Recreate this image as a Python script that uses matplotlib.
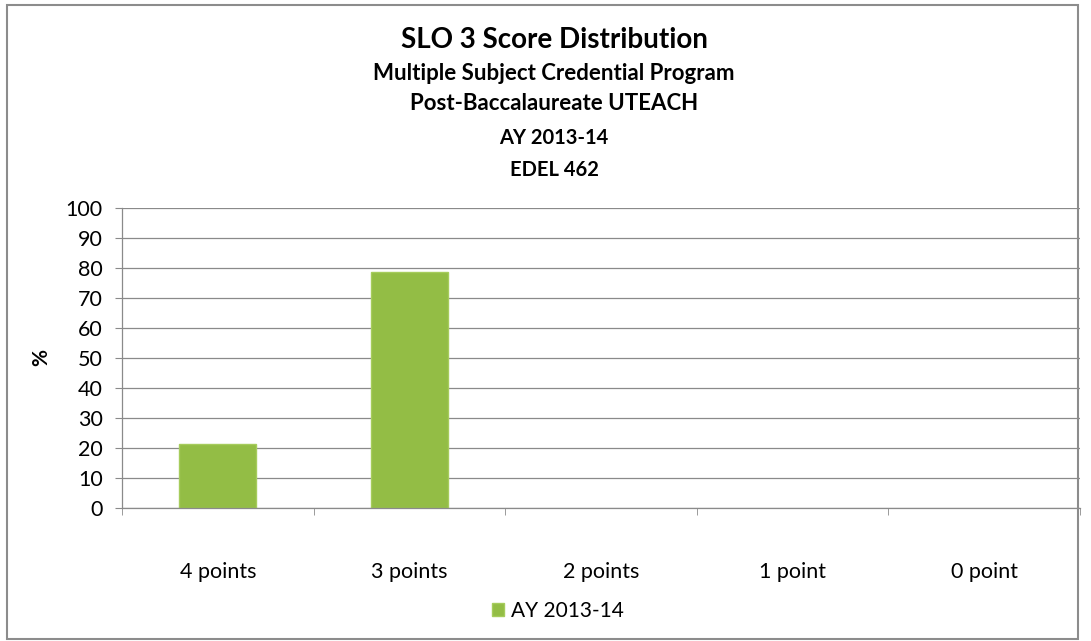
import matplotlib
matplotlib.use("Agg")
import matplotlib.pyplot as plt
from matplotlib.patches import Rectangle, Patch
import numpy as np

plt.rcParams['font.family'] = ['Lato', 'DejaVu Sans']

categories = ['4 points', '3 points', '2 points', '1 point', '0 point']
pct = [21.4, 78.6, 0, 0, 0]
series = 'AY 2013-14'
title_lines = ['SLO 3 Score Distribution',
               'Multiple Subject Credential Program',
               'Post-Baccalaureate UTEACH',
               'AY 2013-14',
               'EDEL 462']

W, H = 1091, 641
fig = plt.figure(figsize=(W / 100, H / 100), dpi=100)
fig.patch.set_facecolor('white')

# outer chart frame
fig.patches.append(Rectangle((7 / W, 1 - 639 / H), 1071 / W, 634 / H,
                             transform=fig.transFigure, fill=False,
                             edgecolor='#8c8c8c', linewidth=1.5))

ax = fig.add_axes([122 / W, 1 - 508 / H, 958 / W, 300 / H])
x = np.arange(len(categories))
# no outline on empty bars so they don't show on the axis line
ax.bar(x, pct, width=0.4, color='#93bd45', edgecolor='#a6cc5c',
       linewidth=[1.0 if v > 0 else 0 for v in pct], zorder=3)

ax.set_xlim(-0.5, len(categories) - 0.5)
ax.set_ylim(0, 100)
ax.set_yticks(range(0, 101, 10))
ax.grid(axis='y', color='#8a8a8a', linewidth=0.9, zorder=0)
for s in ['top', 'right']:
    ax.spines[s].set_visible(False)
for s in ['left', 'bottom']:
    ax.spines[s].set_color('#8a8a8a')
    ax.spines[s].set_linewidth(0.9)
    ax.spines[s].set_zorder(4)

ax.set_xticks(x)
ax.set_xticklabels(categories, fontsize=15.5)
ax.tick_params(axis='x', length=0, pad=39)
ax.set_xticks(np.arange(-0.5, len(categories)), minor=True)
ax.tick_params(axis='x', which='minor', length=5, color='#8a8a8a')
ax.tick_params(axis='y', labelsize=15.5, length=5, color='#8a8a8a', pad=9)
ax.set_ylabel('%', fontsize=15, fontweight='bold', labelpad=10)

# title block
ys = [40, 73, 104, 138, 170]
sizes = [20, 16, 16, 14.5, 14.5]
for t, y, s in zip(title_lines, ys, sizes):
    fig.text(554 / W, 1 - y / H, t, ha='center', va='center',
             fontsize=s, fontweight='bold')

fig.legend(handles=[Patch(facecolor='#93bd45', edgecolor='#a6cc5c')],
           labels=[series], loc='center', bbox_to_anchor=(558 / W, 1 - 611 / H),
           frameon=False, fontsize=15, handlelength=0.6, handleheight=0.6,
           handletextpad=0.35)

fig.savefig('out.png', dpi=100)
